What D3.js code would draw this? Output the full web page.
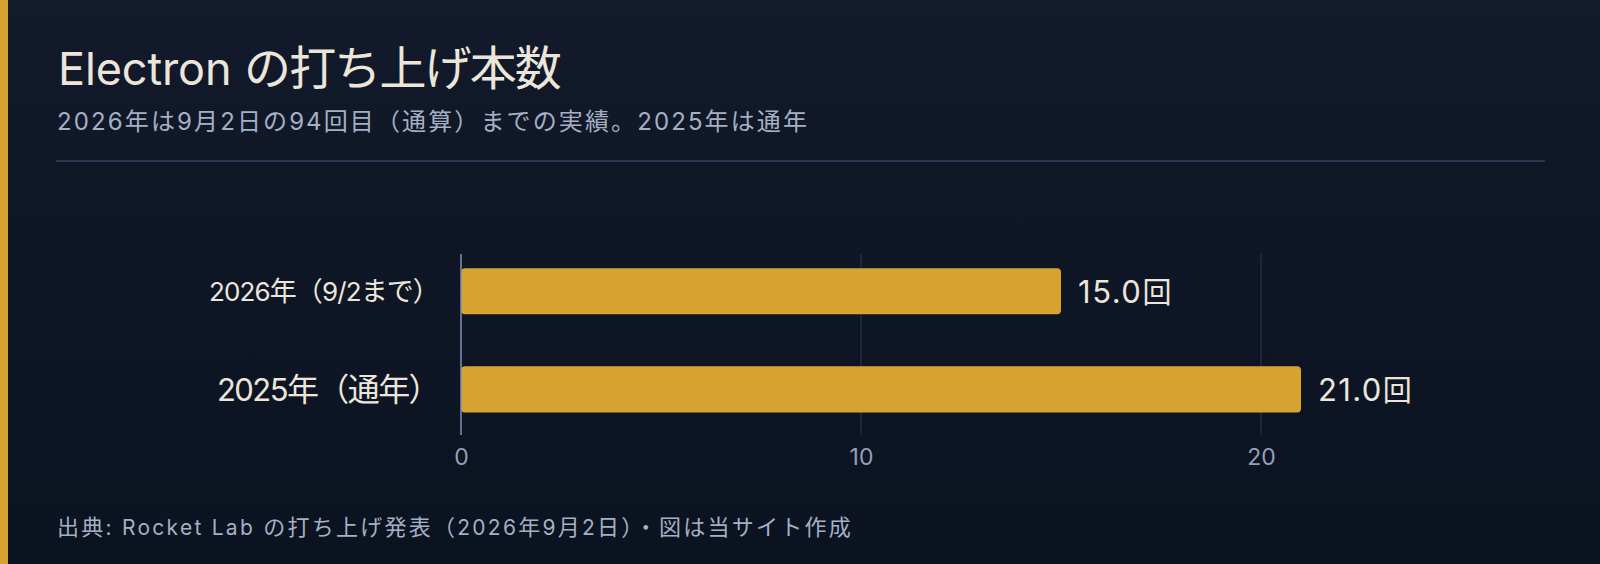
<!DOCTYPE html>
<html><head><meta charset="utf-8">
<script src="https://cdn.jsdelivr.net/npm/d3@7"></script>
<style>
html,body{margin:0;padding:0;background:#0d1424;}
svg{display:block;}
</style></head>
<body>
<svg id="chart" width="1600" height="564"></svg>
<script>
const categories = ["2026年（9/2まで）", "2025年（通年）"];
const launches = [15.0, 21.0];
const tickValues = [0, 10, 20];
const titleText = "Electron の打ち上げ本数";
const subtitleText = "2026年は9月2日の94回目（通算）までの実績。2025年は通年";
const sourceText = "出典: Rocket Lab の打ち上げ発表（2026年9月2日）・図は当サイト作成";
const unit = "回";

const W = 1600, H = 564;
const latinFont = "Inter,'Noto Sans CJK JP',sans-serif";
const cjkFont = "'Noto Sans CJK JP','Noto Sans',sans-serif";
// half-width trimming for full-width punctuation: [trim before, trim after] in em
const PUNCT = {"（":[0.5,0], "）":[0,0.5], "。":[0,0.5], "、":[0,0.5], "・":[0.25,0.25]};
const runRe = /[（）。・、]|[\u3000-\u30ff\u3400-\u9fff\uff00-\uffef]+|[^\u3000-\u30ff\u3400-\u9fff\uff00-\uffef]+/g;
const isCjk = s => /[\u3000-\u30ff\u3400-\u9fff\uff00-\uffef]/.test(s);

// split a string into script runs, each its own tspan
function runs(textSel, str, o) {
  textSel.text(null);
  (str.match(runRe) || []).forEach(r => {
    const c = isCjk(r);
    const size = c ? o.cjkSize : o.latinSize;
    const p = PUNCT[r] || [0,0];
    textSel.append("tspan")
      .attr("font-family", c ? cjkFont : latinFont)
      .attr("font-size", size)
      .attr("dx", p[0] ? -p[0]*size : null)
      .attr("data-post", -p[1]*size)
      .text(r);
  });
  setLs(textSel, 0);
  return textSel;
}
function setLs(sel, ls) {
  sel.selectAll("tspan").attr("letter-spacing", function(){ return ls + (+this.getAttribute("data-post")); });
}
// choose letter-spacing so the text box spans the given width
function fit(sel, width) {
  setLs(sel, 0);
  const w0 = sel.node().getBBox().width;
  setLs(sel, 1);
  const w1 = sel.node().getBBox().width;
  const ls = (width - w0) / Math.max(0.001, (w1 - w0));
  setLs(sel, ls);
  return sel;
}

const svg = d3.select("#chart");
const defs = svg.append("defs");
const grad = defs.append("linearGradient").attr("id","bg").attr("x1",0).attr("y1",0).attr("x2",0).attr("y2",1);
grad.append("stop").attr("offset","0%").attr("stop-color","#121a2b");
grad.append("stop").attr("offset","100%").attr("stop-color","#0b1220");
svg.append("rect").attr("width",W).attr("height",H).attr("fill","url(#bg)");
svg.append("rect").attr("width",8).attr("height",H).attr("fill","#d6a330");

// title: latin and CJK parts spaced separately
const title = runs(svg.append("text").attr("x",58).attr("y",85).attr("fill","#ece6da"), titleText,
  {latinSize:45, cjkSize:47});
title.selectAll("tspan").each(function(d,i){
  const t = d3.select(this);
  t.attr("letter-spacing", 0);
  const len = this.getComputedTextLength();
  const n = Array.from(t.text()).length;
  const target = i === 0 ? 186 : 316;
  t.attr("letter-spacing", (target - len) / n);
});

fit(runs(svg.append("text").attr("x",57).attr("y",130).attr("fill","#a6b0c4"), subtitleText,
  {latinSize:24, cjkSize:24}), 752);
svg.append("line").attr("x1",56).attr("x2",1545).attr("y1",161).attr("y2",161)
  .attr("stroke","#34415e").attr("stroke-width",1.5);

const x = d3.scaleLinear().domain([0, 25]).range([461, 1461]);
const y = d3.scaleBand().domain(categories).range([248.7, 432]).paddingInner(0.53).paddingOuter(0.2);
const gridTop = 254, gridBottom = 435;

// grid
svg.append("g").selectAll("line").data(tickValues.filter(d=>d>0)).join("line")
  .attr("x1",d=>x(d)).attr("x2",d=>x(d)).attr("y1",gridTop).attr("y2",gridBottom)
  .attr("stroke","#2c3650").attr("stroke-width",1);

// x axis labels
const xAxis = d3.axisBottom(x).tickValues(tickValues).tickSize(0).tickPadding(0);
const ax = svg.append("g").attr("transform",`translate(0,${gridBottom})`).call(xAxis);
ax.select(".domain").remove();
ax.selectAll("text").attr("font-family",latinFont).attr("font-size",23).attr("fill","#94a0b8")
  .attr("dy",null).attr("y",30);

// bars
svg.append("g").selectAll("rect").data(launches).join("rect")
  .attr("x",x(0)).attr("y",(d,i)=>y(categories[i]))
  .attr("width",d=>x(d)-x(0)).attr("height",y.bandwidth())
  .attr("rx",4).attr("fill","#d6a330");

// zero line
svg.append("line").attr("x1",x(0)).attr("x2",x(0)).attr("y1",gridTop).attr("y2",gridBottom)
  .attr("stroke","#7f90b4").attr("stroke-width",1.5);

// category labels
const labelStyle = [
  {latinSize:26, cjkSize:27, width:230},
  {latinSize:31, cjkSize:32, width:222}
];
const yAxis = d3.axisLeft(y).tickSize(0).tickPadding(22);
const ay = svg.append("g").attr("transform",`translate(${x(0)},0)`).call(yAxis);
ay.select(".domain").remove();
ay.selectAll("text").attr("fill","#ece6da")
  .each(function(d,i){
    const t = d3.select(this);
    t.attr("font-size", labelStyle[i].latinSize).attr("dy", (0.36*labelStyle[i].latinSize)+"px");
    fit(runs(t, d, labelStyle[i]), labelStyle[i].width);
  });

// value labels
svg.append("g").selectAll("text").data(launches).join("text")
  .attr("x",d=>x(d)+17).attr("y",(d,i)=>y(categories[i])+y.bandwidth()/2 + 11.5)
  .attr("fill","#ece6da")
  .each(function(d){ fit(runs(d3.select(this), d.toFixed(1)+unit, {latinSize:31, cjkSize:29}), 95); });

fit(runs(svg.append("text").attr("x",57).attr("y",535).attr("fill","#a6b0c4"), sourceText,
  {latinSize:21, cjkSize:22}), 796);
</script>
</body></html>
